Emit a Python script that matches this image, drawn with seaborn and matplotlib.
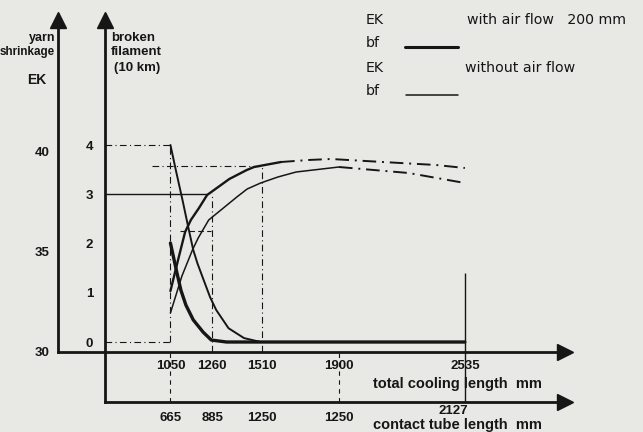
"""
Yarn shrinkage (EK) and broken filaments (bf) over cooling length,
with and without air flow - redrawn from a scanned figure.
"""

import pandas as pd
import seaborn as sns
import matplotlib.pyplot as plt
from matplotlib.lines import Line2D
from matplotlib.transforms import ScaledTranslation

# --- data -------------------------------------------------------------------
cooling_ticks = [1050, 1260, 1510, 1900, 2535]          # total cooling length, mm
contact_labels = ["665", "885", "1250", "1250", "2127"]  # contact tube length, mm

ek_ticks = list(range(30, 42))
ek_labels = ["30", "", "", "", "", "35", "", "", "", "", "40", ""]
bf_ticks = [0, 1, 2, 3, 4]
bf_minor = [0.6, 2.25, 3.25, 3.45, 3.6]

# broken filaments per 10 km
bf_with_mm = [1050, 1083, 1103, 1128, 1165, 1215, 1256, 1333, 2535]
bf_with = [2.01, 1.40, 1.05, 0.75, 0.45, 0.20, 0.04, 0.0, 0.0]
bf_without_mm = [1050, 1080, 1111, 1140, 1165, 1186, 1223, 1250, 1281, 1343, 1421, 1505, 2535]
bf_without = [4.0, 3.44, 2.88, 2.33, 1.87, 1.60, 1.20, 0.91, 0.65, 0.28, 0.08, 0.0, 0.0]

# yarn shrinkage EK (%), measured part and extrapolated part
ek_with_mm = [1050, 1091, 1124, 1153, 1194, 1235, 1347, 1435, 1472, 1608]
ek_with = [33.05, 34.7, 36.0, 36.6, 37.2, 37.85, 38.65, 39.1, 39.25, 39.5]
ek_with_ext_mm = [1608, 1746, 1859, 2210, 2390, 2535]
ek_with_ext = [39.5, 39.6, 39.65, 39.45, 39.35, 39.2]
ek_without_mm = [1050, 1108, 1161, 1190, 1243, 1385, 1437, 1505, 1592, 1684, 1900]
ek_without = [31.95, 33.8, 35.1, 35.7, 36.6, 37.75, 38.15, 38.45, 38.75, 39.0, 39.25]
ek_without_ext_mm = [1900, 2251, 2535]
ek_without_ext = [39.25, 38.95, 38.45]

# reading guides
bf_guides = [4, 0]
ek_plateau = 39.3
ek_cross = 36.05

# --- style ------------------------------------------------------------------
sns.set_style("white")
plt.rcParams["font.family"] = ["Liberation Sans", "DejaVu Sans"]
INK = "#161616"
PAPER = "#e8e8e4"
W, H = 643, 432


def box(x0, y0, x1, y1):
    return [x0 / W, 1 - y1 / H, (x1 - x0) / W, (y1 - y0) / H]


def put(x, y, s, **kw):
    fig.text(x / W, 1 - y / H, s, va="center", color=INK, **kw)


fig = plt.figure(figsize=(W / 100, H / 100), dpi=100, facecolor=PAPER)
ax1 = fig.add_axes(box(58, 20, 565, 352))   # EK axis + total cooling length
ax2 = fig.add_axes(box(105, 20, 565, 402))  # bf axis + contact tube length

ax1.set_xlim(483, 3040)
ax1.set_ylim(30, 46.6)
ax2.set_xlim(720, 3040)
ax2.set_ylim(-1.218, 6.538)

for ax in (ax1, ax2):
    ax.set_facecolor("none")
    for side in ("top", "right"):
        ax.spines[side].set_visible(False)
    for side in ("left", "bottom"):
        ax.spines[side].set_linewidth(2.0)
        ax.spines[side].set_color(INK)
    ax.plot(0, 1, "^", ms=11, color=INK, transform=ax.transAxes, clip_on=False)
    ax.plot(1, 0, ">", ms=11, color=INK, transform=ax.transAxes, clip_on=False)

# guides
gkw = dict(color=INK, lw=0.8, ls=(0, (6, 3, 1, 3)))
ax2.hlines(bf_guides, 720, cooling_ticks[0], **gkw)
ax2.vlines(cooling_ticks[0], bf_guides[1], bf_guides[0], **gkw)
ax2.hlines(3, 720, ek_with_mm[5], color=INK, lw=1.0)
ax2.vlines([cooling_ticks[0], cooling_ticks[3]], -1.218, -0.203, color=INK, lw=0.8, ls=(0, (4, 4)))
ax2.vlines(cooling_ticks[4], -1.218, -0.203, color=INK, lw=1.0)
ax1.hlines(ek_plateau, 955, cooling_ticks[2], **gkw)
ax1.hlines(ek_cross, 1098, 1255, color=INK, lw=0.8, ls=(0, (5, 3)))
ax1.vlines(cooling_ticks[1], 30, 37.95, **gkw)
ax1.vlines(cooling_ticks[2], 30, ek_without[-1], **gkw)
ax1.vlines(cooling_ticks[4], 30, 33.95, color=INK, lw=1.0)

# curves
curves = [
    (ax2, bf_with_mm, bf_with, 2.4, "-"),
    (ax2, bf_without_mm, bf_without, 1.4, "-"),
    (ax1, ek_with_mm, ek_with, 1.7, "-"),
    (ax1, ek_with_ext_mm, ek_with_ext, 1.4, (0, (7, 3, 1, 3))),
    (ax1, ek_without_mm, ek_without, 1.1, "-"),
    (ax1, ek_without_ext_mm, ek_without_ext, 1.4, (0, (7, 3, 1, 3))),
]
for ax, xs, ys, lw, ls in curves:
    df = pd.DataFrame({"mm": xs, "v": ys})
    sns.lineplot(data=df, x="mm", y="v", ax=ax, color=INK, lw=lw,
                 linestyle=ls, estimator=None, legend=False)

# ticks
tick_font = dict(fontsize=9.5, fontweight="bold", color=INK)
ax1.set_xticks(cooling_ticks, [str(t) for t in cooling_ticks], **tick_font)
ax1.set_yticks(ek_ticks, ek_labels, **tick_font)
ax1.tick_params(axis="x", direction="inout", length=10, width=1.0, pad=1, color=INK)
ax1.tick_params(axis="y", direction="inout", length=8, width=1.5, pad=2, color=INK)

ax2.set_xticks(cooling_ticks, contact_labels, **tick_font)
ax2.set_yticks(bf_ticks, [str(t) for t in bf_ticks], **tick_font)
ax2.set_yticks(bf_minor, minor=True)
ax2.tick_params(axis="x", direction="in", length=10, width=1.0, pad=7, color=INK)
ax2.tick_params(axis="y", direction="inout", length=11, width=1.2, pad=3, color=INK)
ax2.tick_params(axis="y", which="minor", direction="inout", length=7, width=1.0, color=INK)
lab = ax2.get_xticklabels()[-1]
lab.set_transform(lab.get_transform() + ScaledTranslation(-0.12, 0.07, fig.dpi_scale_trans))

for ax in (ax1, ax2):
    ax.set_xlabel("")
    ax.set_ylabel("")

# axis titles
bold = dict(fontsize=9, fontweight="bold")
put(55, 38, "yarn", ha="right", **bold)
put(55, 52, "shrinkage", ha="right", fontsize=8.4, fontweight="bold")
put(46, 80, "EK", ha="right", fontsize=10, fontweight="bold")
put(111, 38, "broken", ha="left", fontsize=9.5, fontweight="bold")
put(111, 52, "filament", ha="left", fontsize=9.5, fontweight="bold")
put(114, 68, "(10 km)", ha="left", fontsize=9.5, fontweight="bold")
put(373, 384, "total cooling length  mm", ha="left", fontsize=10.5, fontweight="bold")
put(373, 425, "contact tube length  mm", ha="left", fontsize=10.5, fontweight="bold")

# legend
leg = dict(fontsize=10.2, family="DejaVu Sans")
put(366, 20, "EK", ha="left", **leg)
put(467, 20, "with air flow   200 mm", ha="left", **leg)
put(366, 43, "bf", ha="left", **leg)
put(366, 68, "EK", ha="left", **leg)
put(465, 68, "without air flow", ha="left", **leg)
put(366, 91, "bf", ha="left", **leg)
fig.add_artist(Line2D([405 / W, 458 / W], [1 - 47 / H] * 2, lw=2.2, color=INK))
fig.add_artist(Line2D([406 / W, 458 / W], [1 - 95 / H] * 2, lw=1.1, color=INK))

fig.savefig("out.png", dpi=100, facecolor=PAPER)
